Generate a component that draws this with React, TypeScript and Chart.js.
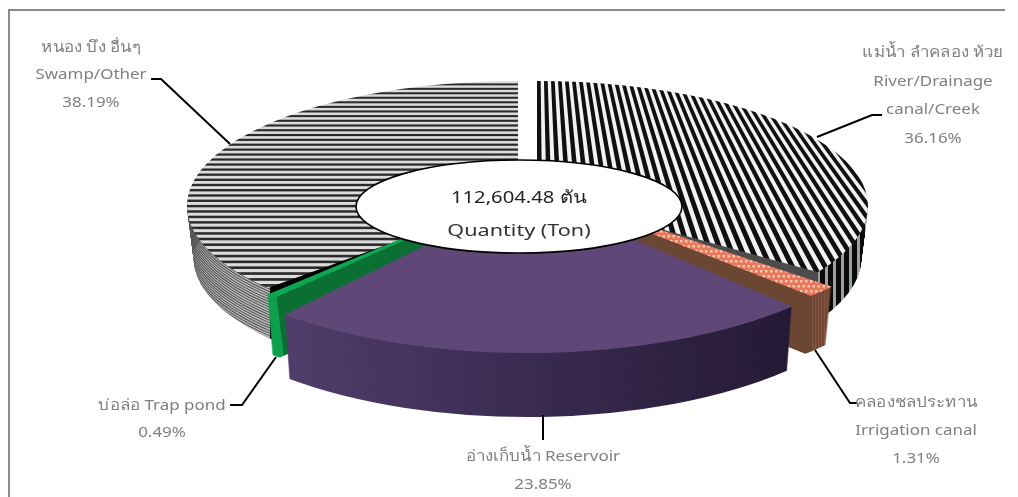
import React, { useEffect, useRef } from 'react';
import { Chart, registerables } from 'chart.js';
Chart.register(...registerables);

const categories = ['River/Drainage canal/Creek', 'Irrigation canal', 'Reservoir', 'Trap pond', 'Swamp/Other'];
const shares = [36.16, 1.31, 23.85, 0.49, 38.19];
const centreLines = ['112,604.48 ตัน', 'Quantity (Ton)'];
const labelLines = [
  ['แม่น้ำ ลำคลอง ห้วย', 'River/Drainage', 'canal/Creek', '36.16%'],
  ['คลองชลประทาน', 'Irrigation canal', '1.31%'],
  ['อ่างเก็บน้ำ Reservoir', '23.85%'],
  ['บ่อล่อ Trap pond', '0.49%'],
  ['หนอง บึง อื่นๆ', 'Swamp/Other', '38.19%'],
];

const W = 1018, H = 497;
const FONT = '"Noto Sans", "Open Sans", sans-serif';

type Face = { cx: number; cy: number; rx: number; ry: number; ds: number; de: number; depth: number; taper: number; clip?: number[][] };
const faces: Face[] = [
  { cx: 537, cy: 206, rx: 331, ry: 125, ds: 0, de: -8.2, depth: 52, taper: 0.02, clip: [[537, 0], [1018, 0], [1018, 272], [817, 272], [537, 195]] },
  { cx: 540, cy: 190, rx: 382, ry: 150, ds: 0, de: 0, depth: 58, taper: 0.02 },
  { cx: 528, cy: 195, rx: 373, ry: 158, ds: 0, de: 0, depth: 64, taper: 0.018 },
  { cx: 511, cy: 193, rx: 361, ry: 138, ds: 0, de: 0, depth: 60, taper: 0.02 },
  { cx: 518, cy: 206, rx: 331, ry: 125, ds: 6.5, de: 0, depth: 52, taper: 0.02, clip: [[0, 0], [518, 0], [518, 197], [268, 288], [0, 497]] },
];
const paintOrder = [4, 0, 1, 3, 2];

const labelAnchors = [
  { x: 933, ys: [53, 82, 110, 139] },
  { x: 916, ys: [403, 431, 459] },
  { x: 543, ys: [457, 485] },
  { x: 162, ys: [406, 433] },
  { x: 91, ys: [48, 75, 103] },
];
const leaders = [
  [[817, 137], [872, 115], [882, 115]],
  [[815, 350], [850, 403], [857, 403]],
  [[543, 415], [543, 440]],
  [[276, 357], [242, 405], [230, 405]],
  [[230, 144], [161, 79], [151, 79]],
];

function makeLayer(main: CanvasRenderingContext2D, draw: (c: CanvasRenderingContext2D) => void) {
  const off = document.createElement('canvas');
  off.width = W; off.height = H;
  draw(off.getContext('2d')!);
  return main.createPattern(off, 'no-repeat')!;
}

function buildFills(main: CanvasRenderingContext2D) {
  const riverTop = makeLayer(main, (c) => {
    c.fillStyle = '#f2f2f2'; c.fillRect(0, 0, W, H);
    c.fillStyle = '#101010';
    const vx = 537, vy = -246, p = 7, bar = 3.7;
    const toY = 420, k = (toY - vy) / (81 - vy);
    for (let n = -2; n < 70; n++) {
      const x0 = vx + n * p;
      c.beginPath();
      c.moveTo(vx + (x0 - vx) * 0.1, vy + (81 - vy) * 0.1);
      c.lineTo(vx + (x0 + bar - vx) * 0.1, vy + (81 - vy) * 0.1);
      c.lineTo(vx + (x0 + bar - vx) * k, toY);
      c.lineTo(vx + (x0 - vx) * k, toY);
      c.closePath(); c.fill();
    }
  });
  const riverSide = makeLayer(main, (c) => {
    c.fillStyle = '#4c4c4c'; c.fillRect(0, 0, 818, H);
    c.fillStyle = '#9aa2a0'; c.fillRect(818, 0, W, H);
    c.fillStyle = '#0a0a0a';
    for (let x = 820; x < 880; x += 8) c.fillRect(x, 0, 5, H);
  });
  const canalTop = makeLayer(main, (c) => {
    c.fillStyle = '#e9775c'; c.fillRect(0, 0, W, H);
    c.fillStyle = '#fbcbb4';
    for (let y = 0; y < H; y += 5) for (let x = (y / 5) % 2 ? 2.5 : 0; x < W; x += 5) c.fillRect(x, y, 2.5, 2.5);
  });
  const canalSide = makeLayer(main, (c) => {
    c.fillStyle = '#6b4633'; c.fillRect(0, 0, W, H);
    c.fillStyle = '#85533f';
    for (let x = 812; x < 830; x += 3) c.fillRect(x, 0, 1.5, H);
  });
  const swampTop = makeLayer(main, (c) => {
    c.fillStyle = '#dcdcdc'; c.fillRect(0, 0, W, H);
    c.fillStyle = '#2a2a2a';
    let y = 79;
    while (y < 300) {
      const p = 4.4 + ((y - 81) / 204) * 1.6;
      c.fillRect(0, y, W, p * 0.45);
      y += p;
    }
  });
  const swampSide = makeLayer(main, (c) => {
    c.fillStyle = '#000'; c.fillRect(0, 0, W, H);
    c.fillStyle = '#c2c2c2'; c.fillRect(0, 0, 270, H);
    c.save();
    c.beginPath(); c.rect(0, 0, 270, H); c.clip();
    c.strokeStyle = '#555'; c.lineWidth = 1.1;
    for (let d = -10; d < 70; d += 2.6) {
      c.beginPath();
      c.ellipse(518, 206 + d, 331, 125, 0, Math.PI * 0.5, Math.PI * 1.1);
      c.stroke();
    }
    c.restore();
  });
  const purpleSide = makeLayer(main, (c) => {
    const g = c.createLinearGradient(285, 0, 790, 0);
    g.addColorStop(0, '#503d6b');
    g.addColorStop(0.45, '#3b2c53');
    g.addColorStop(1, '#241a35');
    c.fillStyle = g; c.fillRect(0, 0, W, H);
  });
  const greenSide = makeLayer(main, (c) => {
    c.fillStyle = '#0b6f33'; c.fillRect(0, 0, W, H);
    c.fillStyle = '#0d9f4d';
    c.beginPath(); c.moveTo(0, 0); c.lineTo(274, 0); c.lineTo(277, 300); c.lineTo(285, 365); c.lineTo(285, H); c.lineTo(0, H); c.closePath(); c.fill();
  });
  return {
    tops: [riverTop, canalTop, '#5f4878', '#0fa653', swampTop],
    sides: [riverSide, canalSide, purpleSide, greenSide, swampSide],
  };
}

function paintArc(ctx: CanvasRenderingContext2D, arc: any, f: Face, fill: any, shift: number, shrink: number) {
  ctx.save();
  const R = arc.outerRadius;
  ctx.translate(f.cx, f.cy + shift);
  ctx.scale((f.rx * (1 - shrink)) / R, f.ry / R);
  ctx.translate(-arc.x, -arc.y);
  if (typeof fill !== 'string') fill.setTransform(ctx.getTransform().inverse());
  const saved = { o: arc.options, s: arc.startAngle, e: arc.endAngle };
  arc.options = { ...arc.options, backgroundColor: fill, borderWidth: 0 };
  arc.startAngle += (f.ds * Math.PI) / 180;
  arc.endAngle += (f.de * Math.PI) / 180;
  arc.draw(ctx);
  arc.options = saved.o; arc.startAngle = saved.s; arc.endAngle = saved.e;
  ctx.restore();
}

function wideText(ctx: CanvasRenderingContext2D, t: string, x: number, y: number, stretch: number) {
  ctx.save();
  ctx.translate(x, y);
  ctx.scale(stretch, 1);
  ctx.fillText(t, 0, 0);
  ctx.restore();
}

const tiltedPie = {
  id: 'tiltedPie',
  beforeDatasetDraw(chart: any) {
    const ctx: CanvasRenderingContext2D = chart.ctx;
    const fills = chart.$fills || (chart.$fills = buildFills(ctx));
    const arcs = chart.getDatasetMeta(0).data;
    for (const i of paintOrder) {
      const f = faces[i];
      for (let k = f.depth; k >= 1; k--) paintArc(ctx, arcs[i], f, fills.sides[i], k, (f.taper * k) / f.depth);
      ctx.save();
      if (f.clip) {
        ctx.beginPath();
        f.clip.forEach(([x, y], n) => (n ? ctx.lineTo(x, y) : ctx.moveTo(x, y)));
        ctx.closePath(); ctx.clip();
      }
      paintArc(ctx, arcs[i], f, fills.tops[i], 0, 0);
      ctx.restore();
    }
    return false;
  },
  afterDraw(chart: any) {
    const ctx: CanvasRenderingContext2D = chart.ctx;
    ctx.save();
    ctx.strokeStyle = '#000'; ctx.lineWidth = 2; ctx.lineJoin = 'miter';
    for (const path of leaders) {
      ctx.beginPath();
      path.forEach(([x, y], n) => (n ? ctx.lineTo(x, y) : ctx.moveTo(x, y)));
      ctx.stroke();
    }
    ctx.beginPath(); ctx.ellipse(519, 206.5, 163, 46.5, 0, 0, Math.PI * 2);
    ctx.fillStyle = '#fff'; ctx.fill();
    ctx.lineWidth = 1.6; ctx.strokeStyle = '#000'; ctx.stroke();
    ctx.textAlign = 'center'; ctx.textBaseline = 'middle';
    ctx.font = `17px ${FONT}`;
    ctx.fillStyle = '#222';
    wideText(ctx, centreLines[0], 519, 198, 1.19);
    ctx.fillStyle = '#333';
    wideText(ctx, centreLines[1], 519, 231, 1.27);
    ctx.fillStyle = '#808080'; ctx.font = `15px ${FONT}`;
    labelLines.forEach((lines, i) => lines.forEach((t, j) => wideText(ctx, t, labelAnchors[i].x, labelAnchors[i].ys[j], 1.13)));
    ctx.strokeStyle = '#8a8a8a'; ctx.lineWidth = 2;
    ctx.beginPath(); ctx.moveTo(9, 497); ctx.lineTo(9, 10); ctx.lineTo(1005, 10); ctx.stroke();
    ctx.restore();
  },
};

export default function App() {
  const ref = useRef<HTMLCanvasElement>(null);
  useEffect(() => {
    document.body.style.margin = '0';
    document.body.style.overflow = 'hidden';
    const chart = new Chart(ref.current!, {
      type: 'pie',
      data: { labels: categories, datasets: [{ data: shares, borderWidth: 0 }] },
      options: {
        animation: false,
        responsive: false,
        plugins: { legend: { display: false }, tooltip: { enabled: false } },
      },
      plugins: [tiltedPie],
    } as any);
    return () => chart.destroy();
  }, []);
  return <canvas ref={ref} width={W} height={H} style={{ display: 'block', filter: 'blur(0.5px)' }} />;
}
